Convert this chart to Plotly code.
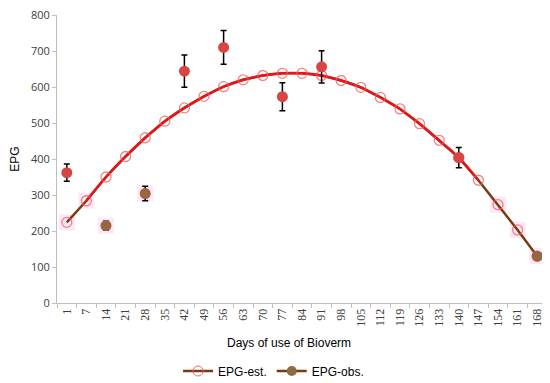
import plotly.graph_objects as go

days = ['1', '7', '14', '21', '28', '35', '42', '49', '56', '63', '70', '77', '84',
        '91', '98', '105', '112', '119', '126', '133', '140', '147', '154', '161', '168']
epg_est = [224, 284, 350, 407, 459, 505, 542, 574, 601, 620, 632, 638, 638,
           632, 618, 599, 571, 539, 498, 452, 404, 341, 273, 203, 130]

obs_days = ['1', '14', '28', '42', '56', '77', '91', '140', '168']
epg_obs = [362, 215, 304, 644, 710, 573, 656, 404, 130]
obs_err = [24, 12, 20, 45, 47, 39, 45, 28, 7]

brown_days = ['14', '28', '168']
highlight_days = ['1', '7', '14', '28', '154', '161', '168']

RED = '#e8141b'
BROWN = '#7a3a10'
OBS_RED = '#d94545'
OBS_BROWN = '#8e6a45'

est_map = dict(zip(days, epg_est))
obs_map = dict(zip(obs_days, epg_obs))

fig = go.Figure()

# faint pink highlight boxes
hl_y = [obs_map[d] if d in ('14', '28') else est_map[d] for d in highlight_days]
fig.add_trace(go.Scatter(x=highlight_days, y=hl_y, mode='markers', showlegend=False,
                         marker=dict(symbol='square', size=16, color='#fde8f7'),
                         hoverinfo='skip'))

# brown full estimated line
fig.add_trace(go.Scatter(x=days, y=epg_est, mode='lines', showlegend=False,
                         line=dict(color=BROWN, width=2.5)))
# red smooth overlay
i0, i1 = days.index('7'), days.index('147')
fig.add_trace(go.Scatter(x=days[i0:i1 + 1], y=epg_est[i0:i1 + 1], mode='lines',
                         showlegend=False, line=dict(color=RED, width=2.5, shape='spline')))
# open circles for estimates
fig.add_trace(go.Scatter(x=days, y=epg_est, mode='markers', showlegend=False,
                         marker=dict(symbol='circle-open', size=10,
                                     color='rgba(240,90,90,0.75)', line=dict(width=1.3))))

# observed points
fig.add_trace(go.Scatter(x=obs_days, y=epg_obs, mode='markers', showlegend=False,
                         marker=dict(size=11, color=OBS_RED),
                         error_y=dict(type='data', array=obs_err, color='black',
                                      thickness=1.5, width=3)))
brown_y = [obs_map[d] for d in brown_days]
fig.add_trace(go.Scatter(x=brown_days, y=brown_y, mode='markers', showlegend=False,
                         marker=dict(size=10, color=OBS_BROWN)))

# legend entries
fig.add_trace(go.Scatter(x=[None], y=[None], mode='lines+markers', name='EPG-est.',
                         line=dict(color=BROWN, width=2.5),
                         marker=dict(symbol='circle-open', size=10, color='rgba(240,90,90,0.9)')))
fig.add_trace(go.Scatter(x=[None], y=[None], mode='lines+markers', name='EPG-obs.',
                         line=dict(color=BROWN, width=2.5),
                         marker=dict(size=10, color=OBS_BROWN)))

# page body has an 8px margin, so the figure is drawn 8px smaller and shifted
fig.update_layout(
    width=542, height=375,
    margin=dict(l=49, r=3, t=7, b=80, autoexpand=False),
    plot_bgcolor='white', paper_bgcolor='white',
    font=dict(family='Liberation Sans, Arial, sans-serif', size=12, color='black'),
    legend=dict(orientation='h', xref='container', yref='container',
                x=0.49, xanchor='center', y=0.032, yanchor='middle',
                font=dict(size=12), itemwidth=30, tracegroupgap=0),
    showlegend=True,
    annotations=[dict(text='Days of use of Bioverm', x=0.473, y=-0.138,
                      xref='paper', yref='paper', xanchor='center', yanchor='middle',
                      showarrow=False, font=dict(size=12, color='black'))],
)
fig.update_xaxes(type='category', categoryorder='array', categoryarray=days,
                 range=[-0.5, len(days) - 0.5], autorange=False,
                 tickangle=-90, tickson='boundaries', ticks='outside', ticklen=4,
                 tickcolor='#bfbfbf', showline=True, linecolor='#bfbfbf', linewidth=1,
                 showgrid=False, automargin=False,
                 tickfont=dict(family='Liberation Serif, serif', size=12, color='#404040'))
fig.update_yaxes(range=[0, 800], dtick=100, ticks='outside', ticklen=4,
                 tickcolor='#bfbfbf', showline=True, linecolor='#bfbfbf', linewidth=1,
                 showgrid=False, zeroline=False, automargin=False,
                 ticklabeloverflow='allow',
                 tickfont=dict(family='Open Sans, sans-serif', size=11, color='#404040'),
                 title=dict(text='EPG', standoff=10, font=dict(size=12, color='black')))

fig.write_html('out.html')
